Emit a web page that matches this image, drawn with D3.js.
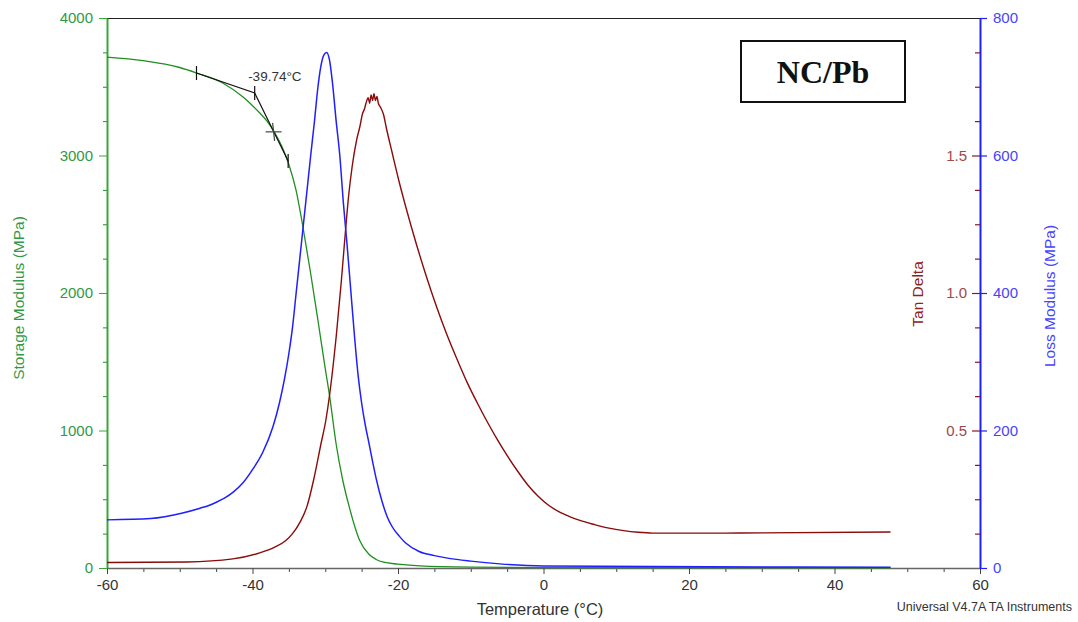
<!DOCTYPE html>
<html>
<head>
<meta charset="utf-8">
<script src="https://cdn.jsdelivr.net/npm/d3@7"></script>
<style>
  html, body { margin: 0; padding: 0; background: #fff; }
  svg { display: block; }
</style>
</head>
<body>
<svg id="chart" width="1078" height="622"></svg>
<script>
// ---------- DATA ----------
const storageTemp = [-60, -55, -50, -47.7, -44.1, -41.3, -39, -38, -37, -36, -35, -34, -33, -32, -31, -30, -29.4, -28.5, -27.6, -26.7, -25.3, -24, -23, -22, -20, -17, -10, 0, 47.7];
const storageVal  = [3716, 3690, 3640, 3600, 3527, 3425, 3309, 3250, 3170, 3070, 2935, 2745, 2460, 2140, 1800, 1450, 1250, 900, 640, 444, 204, 100, 62, 42, 28, 15, 6, 3, 2];

const lossTemp = [-60, -54, -49.6, -47.2, -46, -44.9, -43.8, -42.7, -41.3, -40, -38.6, -37.2, -36.3, -35.6, -35, -34.5, -34, -33.5, -33, -32.5, -32, -31.5, -31, -30.6, -30.2, -29.8, -29.4, -29.0, -28.5, -28.0, -27.5, -27.0, -26.5, -26.0, -25.5, -25.0, -24.5, -24.0, -23.5, -23.0, -22.2, -21.5, -20.8, -19.8, -18.9, -17.1, -15, -13, -10, -6, 0, 47.7];
const lossVal  = [70, 72, 80, 87, 91, 96, 102, 110, 124, 143, 168, 205, 240, 275, 312, 350, 400, 450, 500, 550, 600, 648, 700, 730, 746, 750, 738, 705, 650, 600, 530, 470, 405, 340, 282, 240, 208, 182, 155, 130, 97, 75, 60, 46, 36, 24, 18, 14, 10, 6, 3, 1];

const tanTemp = [-60, -49, -42.7, -39, -37, -35.5, -34.5, -33.5, -32.5, -31.6, -30.6, -29.9, -29.4, -28.9, -28.5, -27.8, -27.3, -26.8, -26.3, -25.7, -25.2, -24.9, -24.6, -24.4, -24.1, -23.9, -23.7, -23.5, -23.3, -23.1, -22.9, -22.7, -22.4, -22.0, -21.6, -20.8, -19.8, -18.9, -17.5, -16.1, -14.7, -13.3, -11.9, -10.5, -9.1, -7.7, -6.3, -4.9, -3.5, -2.1, -0.7, 0.7, 2.1, 3.5, 5, 7, 9, 11, 13, 15, 25, 47.7];
const tanVal  = [0.02, 0.022, 0.033, 0.055, 0.075, 0.098, 0.125, 0.165, 0.225, 0.32, 0.45, 0.54, 0.63, 0.74, 0.84, 1.04, 1.20, 1.35, 1.46, 1.555, 1.61, 1.65, 1.67, 1.69, 1.71, 1.69, 1.72, 1.70, 1.725, 1.70, 1.715, 1.69, 1.675, 1.65, 1.60, 1.51, 1.40, 1.31, 1.18, 1.06, 0.95, 0.85, 0.76, 0.675, 0.60, 0.53, 0.465, 0.405, 0.35, 0.30, 0.26, 0.228, 0.205, 0.188, 0.173, 0.158, 0.145, 0.136, 0.13, 0.127, 0.127, 0.131];

// onset tangent construction (storage modulus units)
const tangentTemp = [-47.7, -39.7, -35.1];
const tangentVal  = [3600, 3455, 2960];
const onsetPoint  = { temp: -37.1, val: 3172 };
const onsetLabel  = "-39.74°C";
const onsetLabelAt = { temp: -40.6, val: 3545 };

const xTicks = [-60, -40, -20, 0, 20, 40, 60];
const storageTicks = [0, 1000, 2000, 3000, 4000];
const lossTicks = [0, 200, 400, 600, 800];
const tanTicks = [0.5, 1.0, 1.5];
const tanTickLabels = ["0.5", "1.0", "1.5"];

const titleText = "NC/Pb";

// ---------- LAYOUT ----------
const L = 107, R = 980, T = 18, B = 568;
const SANS = "'Liberation Sans', Arial, sans-serif";
const SERIF = "'Liberation Serif', 'Times New Roman', serif";
const svg = d3.select("#chart");

const x  = d3.scaleLinear().domain([-60, 60]).range([L, R]);
const yS = d3.scaleLinear().domain([0, 4000]).range([B, T]);
const yL = d3.scaleLinear().domain([0, 800]).range([B, T]);
const yT = d3.scaleLinear().domain([0, 2]).range([B, T]);

const GREEN_AX = "#3aa63a", GREEN_TX = "#2f9a45", GREEN_LN = "#1f8f1f";
const BLUE = "#1f1fff", BLUE_TX = "#4444ff";
const RED_LN = "#8b0a0a", RED_TX = "#a04848", RED_TICK = "#8b1a1a";

// top border
svg.append("line").attr("x1", L).attr("x2", R).attr("y1", T + 0.5).attr("y2", T + 0.5)
  .attr("stroke", "#222").attr("stroke-width", 1.2);

// ---------- BOTTOM AXIS ----------
const xMinor = d3.range(-60, 61, 5).filter(v => v % 20 !== 0);
svg.append("g").attr("transform", `translate(0,${B})`)
  .call(d3.axisBottom(x).tickValues(xMinor).tickSize(4).tickFormat(""))
  .call(g => g.select(".domain").remove())
  .call(g => g.selectAll("line").attr("stroke", "#444"));
const gx = svg.append("g").attr("transform", `translate(0,${B})`)
  .call(d3.axisBottom(x).tickValues(xTicks).tickSize(6).tickSizeOuter(0).tickPadding(5).tickFormat(d3.format("d")));
gx.select(".domain").attr("stroke", "#666").attr("stroke-width", 1.5);
gx.selectAll("line").attr("stroke", "#444");
gx.selectAll("text").attr("fill", "#333").style("font-size", "15px").style("font-family", SANS)
  .text(d => d < 0 ? "-" + Math.abs(d) : d);

// ---------- LEFT AXIS (Storage) ----------
const sMinor = d3.range(0, 4001, 250).filter(v => v % 1000 !== 0);
svg.append("g").attr("transform", `translate(${L},0)`)
  .call(d3.axisLeft(yS).tickValues(sMinor).tickSize(4).tickFormat(""))
  .call(g => g.select(".domain").remove())
  .call(g => g.selectAll("line").attr("stroke", GREEN_LN));
const gs = svg.append("g").attr("transform", `translate(${L},0)`)
  .call(d3.axisLeft(yS).tickValues(storageTicks).tickSize(8).tickSizeOuter(0).tickPadding(6).tickFormat(d3.format("d")));
gs.select(".domain").attr("stroke", GREEN_AX).attr("stroke-width", 2);
gs.selectAll("line").attr("stroke", GREEN_AX);
gs.selectAll("text").attr("fill", GREEN_TX).style("font-size", "15px").style("font-family", SANS);

// ---------- RIGHT AXES ----------
const tMinor = d3.range(1, 16).map(i => i * 0.125).filter(v => Math.abs(v * 2 - Math.round(v * 2)) > 1e-9);
svg.append("g").attr("transform", `translate(${R},0)`)
  .call(d3.axisLeft(yT).tickValues(tMinor).tickSize(5).tickFormat(""))
  .call(g => g.select(".domain").remove())
  .call(g => g.selectAll("line").attr("stroke", RED_TICK).attr("stroke-width", 1.2));
const gt = svg.append("g").attr("transform", `translate(${R},0)`)
  .call(d3.axisLeft(yT).tickValues(tanTicks).tickSize(8).tickPadding(5).tickFormat((d, i) => tanTickLabels[i]));
gt.select(".domain").remove();
gt.selectAll("line").attr("stroke", RED_TICK).attr("stroke-width", 1.2);
gt.selectAll("text").attr("fill", RED_TX).style("font-size", "15px").style("font-family", SANS);

const gl = svg.append("g").attr("transform", `translate(${R},0)`)
  .call(d3.axisRight(yL).tickValues(lossTicks).tickSize(7).tickSizeOuter(0).tickPadding(6).tickFormat(d3.format("d")));
gl.select(".domain").attr("stroke", BLUE).attr("stroke-width", 2);
gl.selectAll("line").attr("stroke", BLUE).attr("stroke-width", 1.2);
gl.selectAll("text").attr("fill", BLUE_TX).style("font-size", "15px").style("font-family", SANS);

// ---------- CURVES ----------
const mk = (tArr, vArr) => tArr.map((t, i) => [t, vArr[i]]);
const lineS = d3.line().x(d => x(d[0])).y(d => yS(d[1])).curve(d3.curveMonotoneX);
const lineL = d3.line().x(d => x(d[0])).y(d => yL(d[1])).curve(d3.curveMonotoneX);
const lineT = d3.line().x(d => x(d[0])).y(d => yT(d[1])).curve(d3.curveMonotoneX);

svg.append("path").datum(mk(storageTemp, storageVal)).attr("d", lineS)
  .attr("fill", "none").attr("stroke", GREEN_LN).attr("stroke-width", 1.3);
svg.append("path").datum(mk(tanTemp, tanVal)).attr("d", lineT)
  .attr("fill", "none").attr("stroke", RED_LN).attr("stroke-width", 1.4);
svg.append("path").datum(mk(lossTemp, lossVal)).attr("d", lineL)
  .attr("fill", "none").attr("stroke", BLUE).attr("stroke-width", 1.5);

// ---------- ONSET ANNOTATION ----------
const tan = mk(tangentTemp, tangentVal);
svg.append("path").datum(tan)
  .attr("d", d3.line().x(d => x(d[0])).y(d => yS(d[1])))
  .attr("fill", "none").attr("stroke", "#111").attr("stroke-width", 1.2);
tan.forEach(p => {
  svg.append("line").attr("x1", x(p[0])).attr("x2", x(p[0]))
    .attr("y1", yS(p[1]) - 7).attr("y2", yS(p[1]) + 7)
    .attr("stroke", "#111").attr("stroke-width", 1.2);
});
const ox = x(onsetPoint.temp), oy = yS(onsetPoint.val);
svg.append("line").attr("x1", ox - 8).attr("x2", ox + 8).attr("y1", oy).attr("y2", oy)
  .attr("stroke", "#444").attr("stroke-width", 1.2);
svg.append("line").attr("x1", ox - 1).attr("x2", ox + 1).attr("y1", oy - 9).attr("y2", oy + 9)
  .attr("stroke", "#444").attr("stroke-width", 1.2);
svg.append("text").attr("x", x(onsetLabelAt.temp)).attr("y", yS(onsetLabelAt.val))
  .style("font-family", SANS).style("font-size", "13.5px").attr("fill", "#333").text(onsetLabel);

// ---------- AXIS TITLES ----------
svg.append("text").attr("transform", `translate(24,298) rotate(-90)`)
  .attr("text-anchor", "middle").style("font-family", SANS).style("font-size", "15.5px").attr("fill", GREEN_TX)
  .text("Storage Modulus (MPa)");
svg.append("text").attr("transform", `translate(923,294) rotate(-90)`)
  .attr("text-anchor", "middle").style("font-family", SANS).style("font-size", "15.5px").attr("fill", "#8b2222")
  .text("Tan Delta");
svg.append("text").attr("transform", `translate(1055,296) rotate(-90)`)
  .attr("text-anchor", "middle").style("font-family", SANS).style("font-size", "15.5px").attr("fill", BLUE_TX)
  .text("Loss Modulus (MPa)");
svg.append("text").attr("x", 540).attr("y", 615)
  .attr("text-anchor", "middle").style("font-family", SANS).style("font-size", "16.5px").attr("fill", "#333")
  .text("Temperature (°C)");
svg.append("text").attr("x", 1072).attr("y", 611)
  .attr("text-anchor", "end").style("font-family", SANS).style("font-size", "12.5px").attr("fill", "#333")
  .text("Universal V4.7A TA Instruments");

// ---------- TITLE BOX ----------
svg.append("rect").attr("x", 741).attr("y", 41).attr("width", 164).attr("height", 61)
  .attr("fill", "#fff").attr("stroke", "#111").attr("stroke-width", 2);
svg.append("text").attr("x", 823).attr("y", 83).attr("text-anchor", "middle")
  .style("font-family", SERIF).style("font-weight", "bold").style("font-size", "32px").attr("fill", "#111")
  .text(titleText);
</script>
</body>
</html>
